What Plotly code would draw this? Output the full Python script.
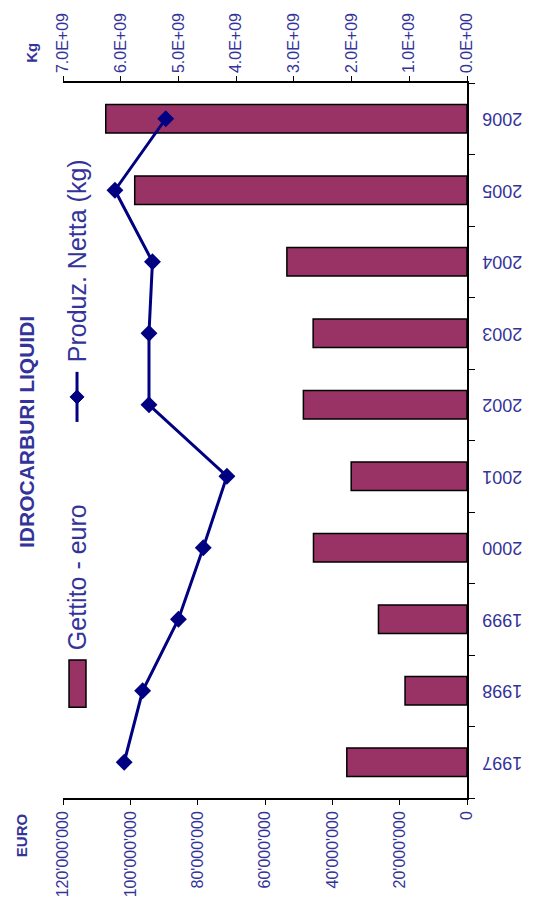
import plotly.graph_objects as go

years = ["1997", "1998", "1999", "2000", "2001", "2002", "2003", "2004", "2005", "2006"]
gettito_euro = [35.7e6, 18.4e6, 26.3e6, 45.6e6, 34.4e6, 48.6e6, 45.7e6, 53.5e6, 98.7e6, 107.3e6]
produz_kg = [5.94e9, 5.62e9, 5.00e9, 4.57e9, 4.16e9, 5.51e9, 5.51e9, 5.45e9, 6.10e9, 5.22e9]

euro_ticks = [0, 20e6, 40e6, 60e6, 80e6, 100e6, 120e6]
euro_labels = ["0", "20'000'000", "40'000'000", "60'000'000", "80'000'000", "100'000'000", "120'000'000"]
kg_ticks = [0, 1e9, 2e9, 3e9, 4e9, 5e9, 6e9, 7e9]
kg_labels = ["0.0E+00", "1.0E+09", "2.0E+09", "3.0E+09", "4.0E+09", "5.0E+09", "6.0E+09", "7.0E+09"]

TXT = "#333399"
FONT = "Arial, Liberation Sans, sans-serif"

fig = go.Figure()
fig.add_trace(go.Bar(
    x=gettito_euro, y=years, orientation="h", width=0.4,
    marker=dict(color="#993366", line=dict(color="black", width=1.5)),
    xaxis="x", yaxis="y", name="Gettito - euro", showlegend=False,
))
fig.add_trace(go.Scatter(
    x=produz_kg, y=years, mode="lines+markers",
    line=dict(color="#000080", width=3),
    marker=dict(symbol="diamond", size=13, color="#000080"),
    xaxis="x2", yaxis="y", name="Produz. Netta (kg)", showlegend=False,
))

fig.update_layout(
    width=536, height=910,
    margin=dict(l=55, r=77, t=75, b=120, autoexpand=False),
    paper_bgcolor="white", plot_bgcolor="white",
    font=dict(family=FONT, color=TXT),
    hovermode=False,
    xaxis=dict(
        range=[120e6, 0], tickvals=euro_ticks, ticktext=euro_labels,
        tickangle=-90, tickfont=dict(size=16, color=TXT), automargin=False,
        showgrid=False, zeroline=False, showline=True, linecolor="black", linewidth=1.5,
        ticks="outside", ticklen=5, tickcolor="black", side="bottom",
    ),
    xaxis2=dict(
        range=[7e9, 0], tickvals=kg_ticks, ticktext=kg_labels, overlaying="x",
        tickangle=-90, tickfont=dict(size=16, color=TXT), automargin=False,
        showgrid=False, zeroline=False, showline=True, linecolor="black", linewidth=1.5,
        ticks="outside", ticklen=5, tickcolor="black", side="top",
    ),
    yaxis=dict(
        type="category", categoryorder="array", categoryarray=years,
        side="right", showticklabels=False, automargin=False,
        showgrid=False, zeroline=False, showline=True, linecolor="black", linewidth=1.5,
        ticks="outside", ticklen=6, tickcolor="black", tickson="boundaries",
        range=[-0.5, 9.5],
    ),
)

annotations = [
    dict(text="<b>IDROCARBURI LIQUIDI</b>", x=-0.089, y=0.512, textangle=-90,
         font=dict(size=21, color=TXT)),
    dict(text="<b>EURO</b>", x=-0.104, y=-0.052, textangle=-90, font=dict(size=15, color=TXT)),
    dict(text="<b>Kg</b>", x=-0.077, y=1.042, textangle=-90, font=dict(size=15, color=TXT)),
    dict(text="Gettito - euro", x=0.0347, y=0.204, yanchor="bottom", textangle=-90,
         font=dict(size=25, color=TXT)),
    dict(text="Produz. Netta (kg)", x=0.0347, y=0.606, yanchor="bottom", textangle=-90,
         font=dict(size=25, color=TXT)),
]
for a in annotations:
    a.setdefault("xanchor", "center")
    a.setdefault("yanchor", "middle")
    a.update(xref="paper", yref="paper", showarrow=False)
# year category labels (upside-down, as in the reference); y given as category index
for i, yr in enumerate(years):
    annotations.append(dict(text=yr, x=1.087, y=i, xref="paper", yref="y", showarrow=False,
                            textangle=180, xanchor="center", yanchor="middle",
                            font=dict(size=18, color=TXT)))
fig.update_layout(annotations=annotations)

dx, dy = 7 / 404, 7 / 715
cx, cy = 0.0347, 0.561
shapes = [
    dict(type="rect", xref="paper", yref="paper", x0=0.0149, x1=0.0569, y0=0.127, y1=0.193,
         fillcolor="#993366", line=dict(color="black", width=1.5)),
    dict(type="line", xref="paper", yref="paper", x0=cx, x1=cx, y0=0.526, y1=0.596,
         line=dict(color="#000080", width=3)),
    dict(type="path", xref="paper", yref="paper",
         path=f"M {cx-dx},{cy} L {cx},{cy+dy} L {cx+dx},{cy} L {cx},{cy-dy} Z",
         fillcolor="#000080", line=dict(color="#000080", width=1)),
]
fig.update_layout(shapes=shapes)

fig.write_html("out.html")
